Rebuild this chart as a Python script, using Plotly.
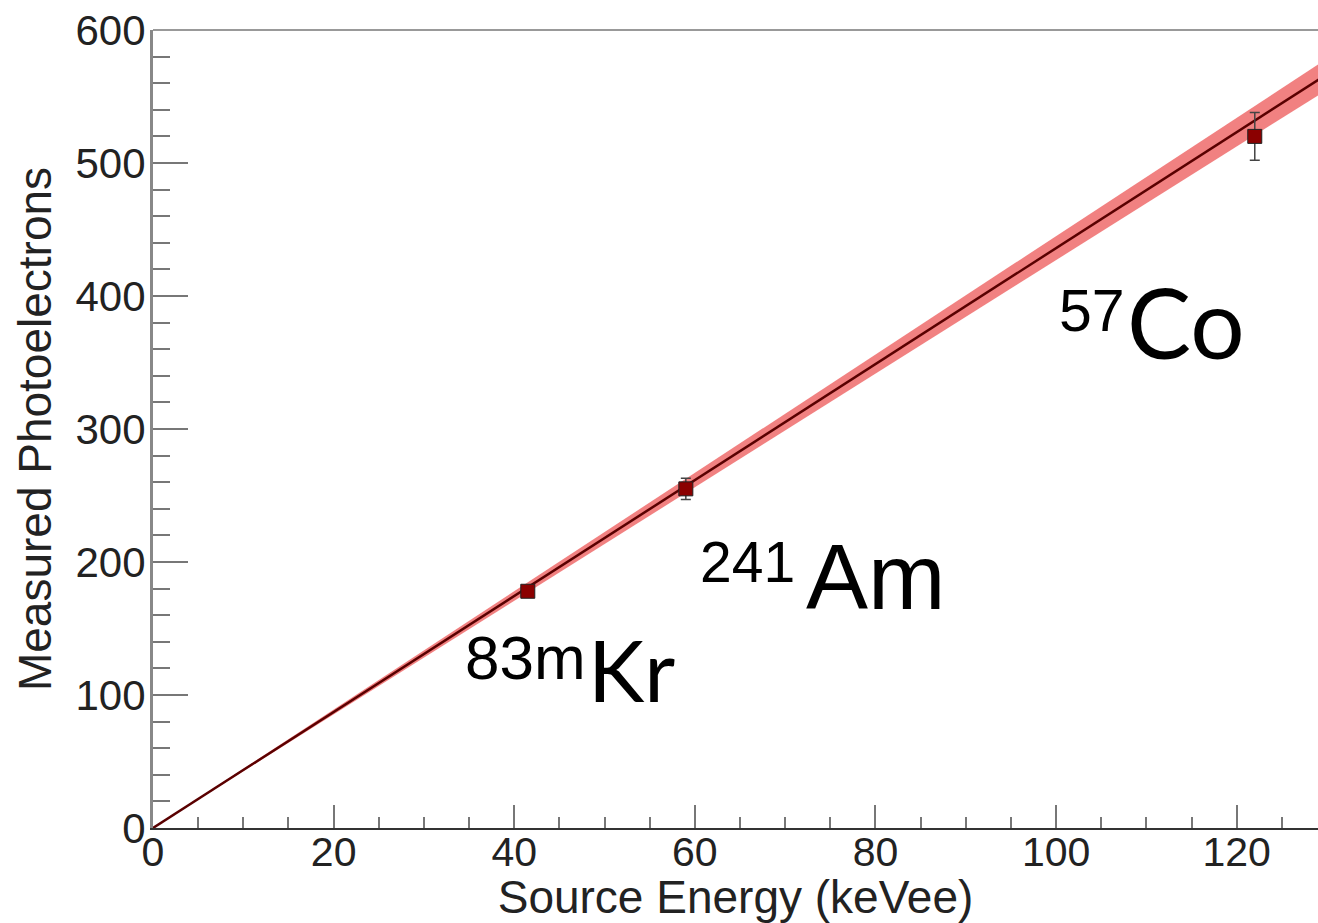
import plotly.graph_objects as go

# ---- data ----
source_names = ["83mKr", "241Am", "57Co"]
energy_kevee = [41.5, 59.0, 122.0]
photoelectrons = [178.0, 255.0, 520.0]
pe_error = [4.0, 8.0, 18.0]

fit_slope = 4.36          # PE per keVee
fit_slope_err = 0.09
fit_x = [0.0, 130.0]

x_tick_vals = [0, 20, 40, 60, 80, 100, 120]
y_tick_vals = [0, 100, 200, 300, 400, 500, 600]

# labels
label_sup = ["83m", "241", "57"]
label_sym = ["Kr", "Am", "Co"]
label_sup_pos = [(34.3, 111.3), (60.4, 184.2), (100.1, 372.9)]
label_sym_pos = [(47.9, 94.0), (72.1, 163.9), (107.6, 351.9)]
label_sup_size = [62, 57, 59]
label_sym_size = [85, 93, 96]
label_sym_font = ["Lato", "Liberation Sans", "Lato"]

fit_y = [fit_slope * x for x in fit_x]
band_hi = [(fit_slope + fit_slope_err) * x for x in fit_x]
band_lo = [(fit_slope - fit_slope_err) * x for x in fit_x]

fig = go.Figure()

fig.add_trace(go.Scatter(x=fit_x, y=band_lo, mode="lines", line=dict(width=0),
                         showlegend=False, hoverinfo="skip"))
fig.add_trace(go.Scatter(x=fit_x, y=band_hi, mode="lines", line=dict(width=0),
                         fill="tonexty", fillcolor="rgba(236,80,80,0.72)",
                         showlegend=False, hoverinfo="skip"))
fig.add_trace(go.Scatter(x=fit_x, y=fit_y, mode="lines",
                         line=dict(color="#5a0000", width=2.5),
                         showlegend=False))
fig.add_trace(go.Scatter(x=energy_kevee, y=photoelectrons, mode="markers",
                         marker=dict(symbol="square", size=14, color="#8b0000",
                                     line=dict(color="#222", width=1)),
                         error_y=dict(type="data", array=pe_error, visible=True,
                                      color="#444", thickness=1.5, width=5),
                         text=source_names, showlegend=False))

annotations = []
for i in range(len(label_sup)):
    sx, sy = label_sup_pos[i]
    annotations.append(dict(x=sx, y=sy, xref="x", yref="y", text=label_sup[i],
                            showarrow=False, xanchor="left", yanchor="bottom",
                            yshift=-(0.212 * label_sup_size[i]) - 1,
                            font=dict(family="Liberation Sans", size=label_sup_size[i], color="#000")))
    mx, my = label_sym_pos[i]
    annotations.append(dict(x=mx, y=my, xref="x", yref="y", text=label_sym[i],
                            showarrow=False, xanchor="left", yanchor="bottom",
                            yshift=-(0.212 * label_sym_size[i]) - 1,
                            font=dict(family=label_sym_font[i], size=label_sym_size[i], color="#000")))

fig.update_layout(
    width=1318, height=923,
    margin=dict(l=153, r=0, t=30, b=95),
    paper_bgcolor="white", plot_bgcolor="white",
    font=dict(family="Liberation Sans", color="#222"),
    annotations=annotations,
    shapes=[dict(type="line", xref="paper", yref="paper", x0=0, x1=1, y0=1, y1=1,
                 line=dict(color="#999", width=2))],
)

fig.update_xaxes(
    range=[0, 129], tickvals=x_tick_vals, ticks="inside", ticklen=23, tickwidth=2,
    tickcolor="#777", showline=True, linecolor="#333", linewidth=2,
    showgrid=False, zeroline=False, tickfont=dict(size=41, color="#222"),
    automargin=False, ticklabelstandoff=-13,
    minor=dict(dtick=5, ticks="inside", ticklen=11, tickwidth=2, tickcolor="#777"),
    title=dict(text="Source Energy (keVee)", font=dict(size=46, color="#222"), standoff=6),
)
fig.update_yaxes(
    range=[0, 600], tickvals=y_tick_vals, ticks="inside", ticklen=35, tickwidth=2,
    tickcolor="#777", showline=True, linecolor="#888", linewidth=3,
    showgrid=False, zeroline=False, tickfont=dict(size=42, color="#222"),
    automargin=False, ticklabelstandoff=-4,
    minor=dict(dtick=20, ticks="inside", ticklen=17, tickwidth=2, tickcolor="#777"),
    title=dict(text="Measured Photoelectrons", font=dict(size=46, color="#222"), standoff=10),
)

fig.write_html("out.html", config={"displayModeBar": False},
               post_script="document.body.style.margin='0';document.body.style.overflow='hidden';")
